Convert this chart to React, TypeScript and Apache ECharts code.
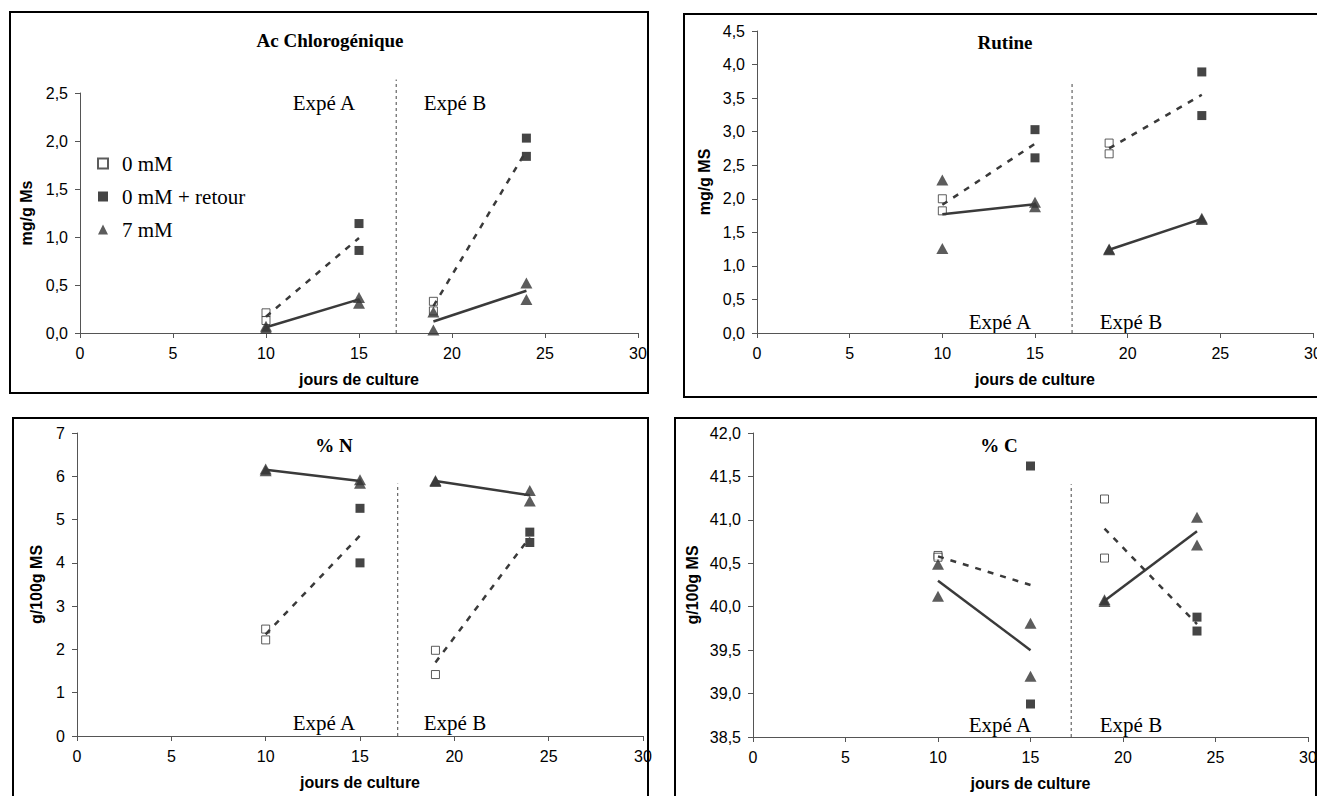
import React, { useEffect, useRef } from "react";
import * as echarts from "echarts";

// ---------- data ----------
const openDays = [10, 10, 19, 19];
const filledDays = [15, 15, 24, 24];
const triDays = [10, 10, 15, 15, 19, 19, 24, 24];
const trendDaysA = [10, 15];
const trendDaysB = [19, 24];
const xTicks = { min: 0, max: 30, step: 5 };

const panelTitles = ["Ac Chlorogénique", "Rutine", "% N", "% C"];
const yNames = ["mg/g Ms", "mg/g MS", "g/100g MS", "g/100g MS"];
const xName = "jours de culture";
const legendNames = ["0 mM", "0 mM + retour", "7 mM"];
const expeLabels = ["Expé A", "Expé B"];

const yMin = [0, 0, 0, 38.5];
const yMax = [2.5, 4.5, 7, 42];
const yStep = [0.5, 0.5, 1, 0.5];
const yDecimals = [1, 1, 0, 1];

// Ac Chlorogénique
const chloroOpen = [0.21, 0.13, 0.33, 0.23];
const chloroFilled = [1.14, 0.86, 2.03, 1.84];
const chloroTri = [0.07, 0.05, 0.37, 0.31, 0.22, 0.03, 0.52, 0.35];
const chloroDashA = [0.17, 0.99];
const chloroDashB = [0.28, 1.9];
const chloroSolidA = [0.06, 0.35];
const chloroSolidB = [0.12, 0.44];

// Rutine
const rutineOpen = [2.0, 1.82, 2.83, 2.67];
const rutineFilled = [3.03, 2.61, 3.89, 3.24];
const rutineTri = [2.28, 1.26, 1.95, 1.88, 1.25, 1.24, 1.71, 1.69];
const rutineDashA = [1.91, 2.82];
const rutineDashB = [2.75, 3.55];
const rutineSolidA = [1.77, 1.92];
const rutineSolidB = [1.24, 1.7];

// % N
const nOpen = [2.47, 2.22, 1.98, 1.42];
const nFilled = [5.26, 4.0, 4.71, 4.47];
const nTri = [6.17, 6.13, 5.92, 5.84, 5.9, 5.88, 5.67, 5.43];
const nDashA = [2.35, 4.63];
const nDashB = [1.7, 4.59];
const nSolidA = [6.15, 5.89];
const nSolidB = [5.89, 5.56];

// % C
const cOpen = [40.59, 40.57, 41.24, 40.56];
const cFilled = [41.62, 38.88, 39.88, 39.72];
const cTri = [40.49, 40.12, 39.81, 39.2, 40.08, 40.06, 41.03, 40.71];
const cDashA = [40.58, 40.25];
const cDashB = [40.9, 39.8];
const cSolidA = [40.3, 39.5];
const cSolidB = [40.07, 40.87];

// divider between the two experiments
const dividerDay = [17, 17, 17, 17.2];
const dividerTop = [2.64, 3.73, 5.83, 41.41];

const panelData = [
  { open: chloroOpen, filled: chloroFilled, tri: chloroTri, dashA: chloroDashA, dashB: chloroDashB, solidA: chloroSolidA, solidB: chloroSolidB },
  { open: rutineOpen, filled: rutineFilled, tri: rutineTri, dashA: rutineDashA, dashB: rutineDashB, solidA: rutineSolidA, solidB: rutineSolidB },
  { open: nOpen, filled: nFilled, tri: nTri, dashA: nDashA, dashB: nDashB, solidA: nSolidA, solidB: nSolidB },
  { open: cOpen, filled: cFilled, tri: cTri, dashA: cDashA, dashB: cDashB, solidA: cSolidA, solidB: cSolidB },
];

// ---------- layout ----------
const grids = [
  { left: 80, top: 93, width: 558, height: 240 },
  { left: 757, top: 31, width: 556, height: 302 },
  { left: 77, top: 433, width: 566, height: 303 },
  { left: 753, top: 433, width: 555, height: 304 },
];
const frames = [
  { x: 10, y: 12, w: 638, h: 381 },
  { x: 684, y: 14, w: 700, h: 383 },
  { x: 13, y: 418, w: 635, h: 420 },
  { x: 675, y: 418, w: 641, h: 420 },
];
const titlePos = [
  [330, 40],
  [1005, 42],
  [334, 445],
  [999, 445],
];
const expePos = [
  [[324, 103], [455, 103]],
  [[1000, 322], [1131, 322]],
  [[324, 723], [455, 723]],
  [[1000, 725], [1131, 725]],
];
const yNameGap = [46, 45, 33, 53];

const SANS = "'Liberation Sans', Arial, sans-serif";
const SERIF = "'Liberation Serif', 'Times New Roman', serif";
const AXIS_COLOR = "#555";
const LINE_COLOR = "#3a3a3a";

function buildOption() {
  const series: any[] = [];
  panelData.forEach((p, i) => {
    const common = { xAxisIndex: i, yAxisIndex: i };
    series.push({
      ...common,
      type: "scatter",
      name: legendNames[0],
      data: openDays.map((d, k) => [d, p.open[k]]),
      symbol: "rect",
      symbolSize: 8,
      itemStyle: { color: "#fff", borderColor: "#333", borderWidth: 1 },
      z: 3,
    });
    series.push({
      ...common,
      type: "scatter",
      name: legendNames[1],
      data: filledDays.map((d, k) => [d, p.filled[k]]),
      symbol: "rect",
      symbolSize: 9,
      itemStyle: { color: "#161616" },
      z: 3,
    });
    series.push({
      ...common,
      type: "scatter",
      name: legendNames[2],
      data: triDays.map((d, k) => [d, p.tri[k]]),
      symbol: "triangle",
      symbolSize: [12, 11],
      itemStyle: { color: "#333" },
      z: 3,
    });
    const trends = [
      { days: trendDaysA, vals: p.dashA, dashed: true },
      { days: trendDaysB, vals: p.dashB, dashed: true },
      { days: trendDaysA, vals: p.solidA, dashed: false },
      { days: trendDaysB, vals: p.solidB, dashed: false },
    ];
    trends.forEach((t) => {
      series.push({
        ...common,
        type: "line",
        data: t.days.map((d, k) => [d, t.vals[k]]),
        symbol: "none",
        silent: true,
        lineStyle: { color: LINE_COLOR, width: 2.5, type: t.dashed ? [6, 7] : "solid" },
        z: 4,
      });
    });
    series.push({
      ...common,
      type: "line",
      data: [
        [dividerDay[i], yMin[i]],
        [dividerDay[i], dividerTop[i]],
      ],
      symbol: "none",
      silent: true,
      clip: false,
      lineStyle: { color: "#444", width: 1, type: [3, 3] },
      z: 2,
    });
  });

  const graphic: any[] = [];
  frames.forEach((f) => {
    graphic.push({
      type: "rect",
      shape: { x: f.x, y: f.y, width: f.w, height: f.h },
      style: { fill: "none", stroke: "#000", lineWidth: 2 },
      silent: true,
    });
  });
  panelTitles.forEach((t, i) => {
    graphic.push({
      type: "text",
      x: titlePos[i][0],
      y: titlePos[i][1],
      style: {
        text: t,
        fontFamily: SERIF,
        fontSize: 19,
        fontWeight: "bold",
        fill: "#000",
        align: "center",
        verticalAlign: "middle",
      },
      silent: true,
    });
    expeLabels.forEach((e, k) => {
      graphic.push({
        type: "text",
        x: expePos[i][k][0],
        y: expePos[i][k][1],
        style: {
          text: e,
          fontFamily: SERIF,
          fontSize: 21,
          fill: "#000",
          align: "center",
          verticalAlign: "middle",
        },
        silent: true,
      });
    });
  });

  return {
    animation: false,
    backgroundColor: "#fff",
    grid: grids.map((g) => ({ ...g, containLabel: false, outerBoundsMode: "none" })),
    xAxis: grids.map((_, i) => ({
      type: "value",
      gridIndex: i,
      min: xTicks.min,
      max: xTicks.max,
      interval: xTicks.step,
      name: xName,
      nameLocation: "middle",
      nameGap: 38,
      nameTextStyle: { fontFamily: SANS, fontSize: 16, fontWeight: "bold", color: "#000" },
      axisLine: { show: true, onZero: false, lineStyle: { color: AXIS_COLOR, width: 1 } },
      axisTick: { show: true, length: 5, lineStyle: { color: AXIS_COLOR } },
      splitLine: { show: false },
      axisLabel: { fontFamily: SANS, fontSize: 16, color: "#000", margin: 12 },
    })),
    yAxis: grids.map((_, i) => ({
      type: "value",
      gridIndex: i,
      min: yMin[i],
      max: yMax[i],
      interval: yStep[i],
      name: yNames[i],
      nameLocation: "middle",
      nameRotate: 90,
      nameGap: yNameGap[i],
      nameTextStyle: { fontFamily: SANS, fontSize: 16, fontWeight: "bold", color: "#000" },
      axisLine: { show: true, onZero: false, lineStyle: { color: AXIS_COLOR, width: 1 } },
      axisTick: { show: true, length: 5, lineStyle: { color: AXIS_COLOR } },
      splitLine: { show: false },
      axisLabel: {
        fontFamily: SANS,
        fontSize: 16,
        color: "#000",
        margin: 12,
        formatter: (v: number) => v.toFixed(yDecimals[i]).replace(".", ","),
      },
    })),
    legend: {
      show: true,
      data: legendNames,
      orient: "vertical",
      left: 92,
      top: 148,
      itemWidth: 10,
      itemHeight: 10,
      itemGap: 12,
      symbolKeepAspect: true,
      selectedMode: false,
      textStyle: { fontFamily: SERIF, fontSize: 21, color: "#000", padding: [0, 0, 0, 9] },
    },
    series,
    graphic,
  };
}

export default function App() {
  const ref = useRef<HTMLDivElement>(null);
  useEffect(() => {
    if (!ref.current) return;
    const chart = echarts.init(ref.current, null, { renderer: "svg" });
    chart.setOption(buildOption() as any);
    return () => chart.dispose();
  }, []);
  return (
    <div
      ref={ref}
      style={{ position: "absolute", left: 0, top: 0, width: 1317, height: 796, background: "#fff" }}
    />
  );
}
